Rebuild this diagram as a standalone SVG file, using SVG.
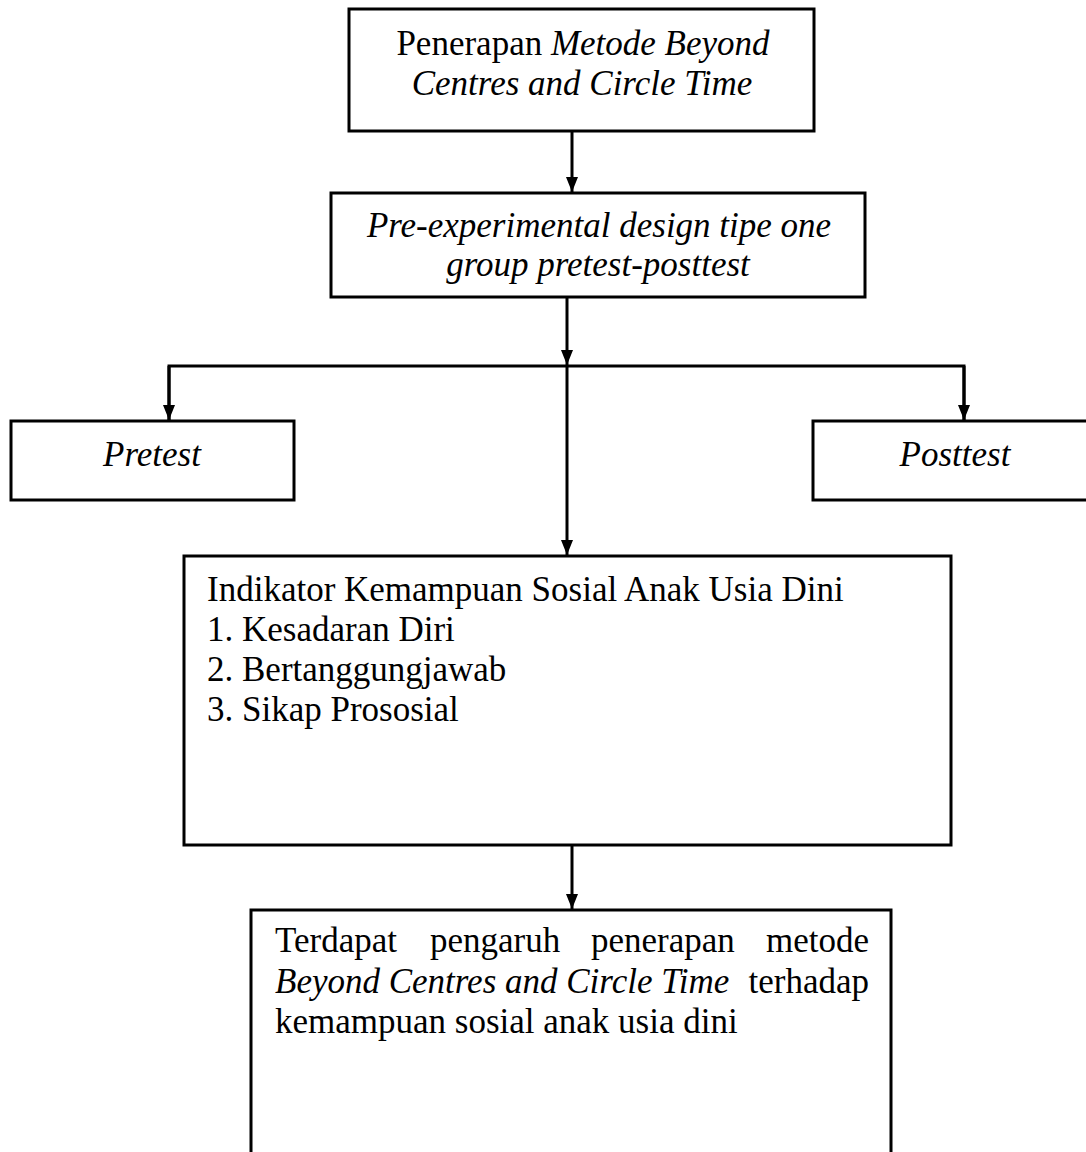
<svg xmlns="http://www.w3.org/2000/svg" width="1086" height="1152" viewBox="0 0 1086 1152">
<style>
.box{fill:#fff;stroke:#000;stroke-width:3}
.t{font-family:"Liberation Serif","Times New Roman",serif;font-size:35px;fill:#000}
.c{text-anchor:middle}
.e{text-anchor:end}
.i{font-style:italic}
.ln{stroke:#000;stroke-width:3;fill:none}
</style>
<defs>
<marker id="ah" viewBox="0 0 10 10" refX="10" refY="5" markerWidth="5" markerHeight="5" markerUnits="strokeWidth" orient="auto"><path d="M0,1 L10,5 L0,9 z" fill="#000"/></marker>
</defs>
<rect width="1086" height="1152" fill="#fff"/>
<g id="connectors">
<line class="ln" x1="572" y1="131" x2="572" y2="192" marker-end="url(#ah)"/>
<line class="ln" x1="567" y1="297" x2="567" y2="365" marker-end="url(#ah)"/>
<polyline class="ln" points="169,421 169,366 964,366 964,421"/>
<line class="ln" x1="169" y1="366" x2="169" y2="420" marker-end="url(#ah)"/>
<line class="ln" x1="964" y1="366" x2="964" y2="420" marker-end="url(#ah)"/>
<line class="ln" x1="567" y1="366" x2="567" y2="555" marker-end="url(#ah)"/>
<line class="ln" x1="572" y1="845" x2="572" y2="909" marker-end="url(#ah)"/>
</g>
<g id="node-metode">
<rect class="box" x="349" y="9" width="465" height="122"/>
<text class="t c" x="583" y="55">Penerapan <tspan class="i">Metode Beyond</tspan></text>
<text class="t c i" x="582" y="95">Centres and Circle Time</text>
</g>
<g id="node-design">
<rect class="box" x="331" y="193" width="534" height="104"/>
<text class="t c i" x="599" y="237">Pre-experimental design tipe one</text>
<text class="t c i" x="598" y="276">group pretest-posttest</text>
</g>
<g id="node-pretest">
<rect class="box" x="11" y="421" width="283" height="79"/>
<text class="t c i" x="152" y="466">Pretest</text>
</g>
<g id="node-posttest">
<rect class="box" x="813" y="421" width="280" height="79"/>
<text class="t c i" x="955" y="466">Posttest</text>
</g>
<g id="node-indikator">
<rect class="box" x="184" y="556" width="767" height="289"/>
<text class="t" x="207" y="601">Indikator Kemampuan Sosial Anak Usia Dini</text>
<text class="t" x="207" y="641">1. Kesadaran Diri</text>
<text class="t" x="207" y="681">2. Bertanggungjawab</text>
<text class="t" x="207" y="721">3. Sikap Prososial</text>
</g>
<g id="node-hasil">
<rect class="box" x="251" y="910" width="640" height="260"/>
<text class="t" y="952"><tspan x="275">Terdapat</tspan><tspan x="430">pengaruh</tspan><tspan x="591">penerapan</tspan></text>
<text class="t e" x="869" y="952">metode</text>
<text class="t i" x="275" y="993">Beyond Centres and Circle Time</text>
<text class="t e" x="869" y="993">terhadap</text>
<text class="t" x="275" y="1033">kemampuan sosial anak usia dini</text>
</g>
</svg>
